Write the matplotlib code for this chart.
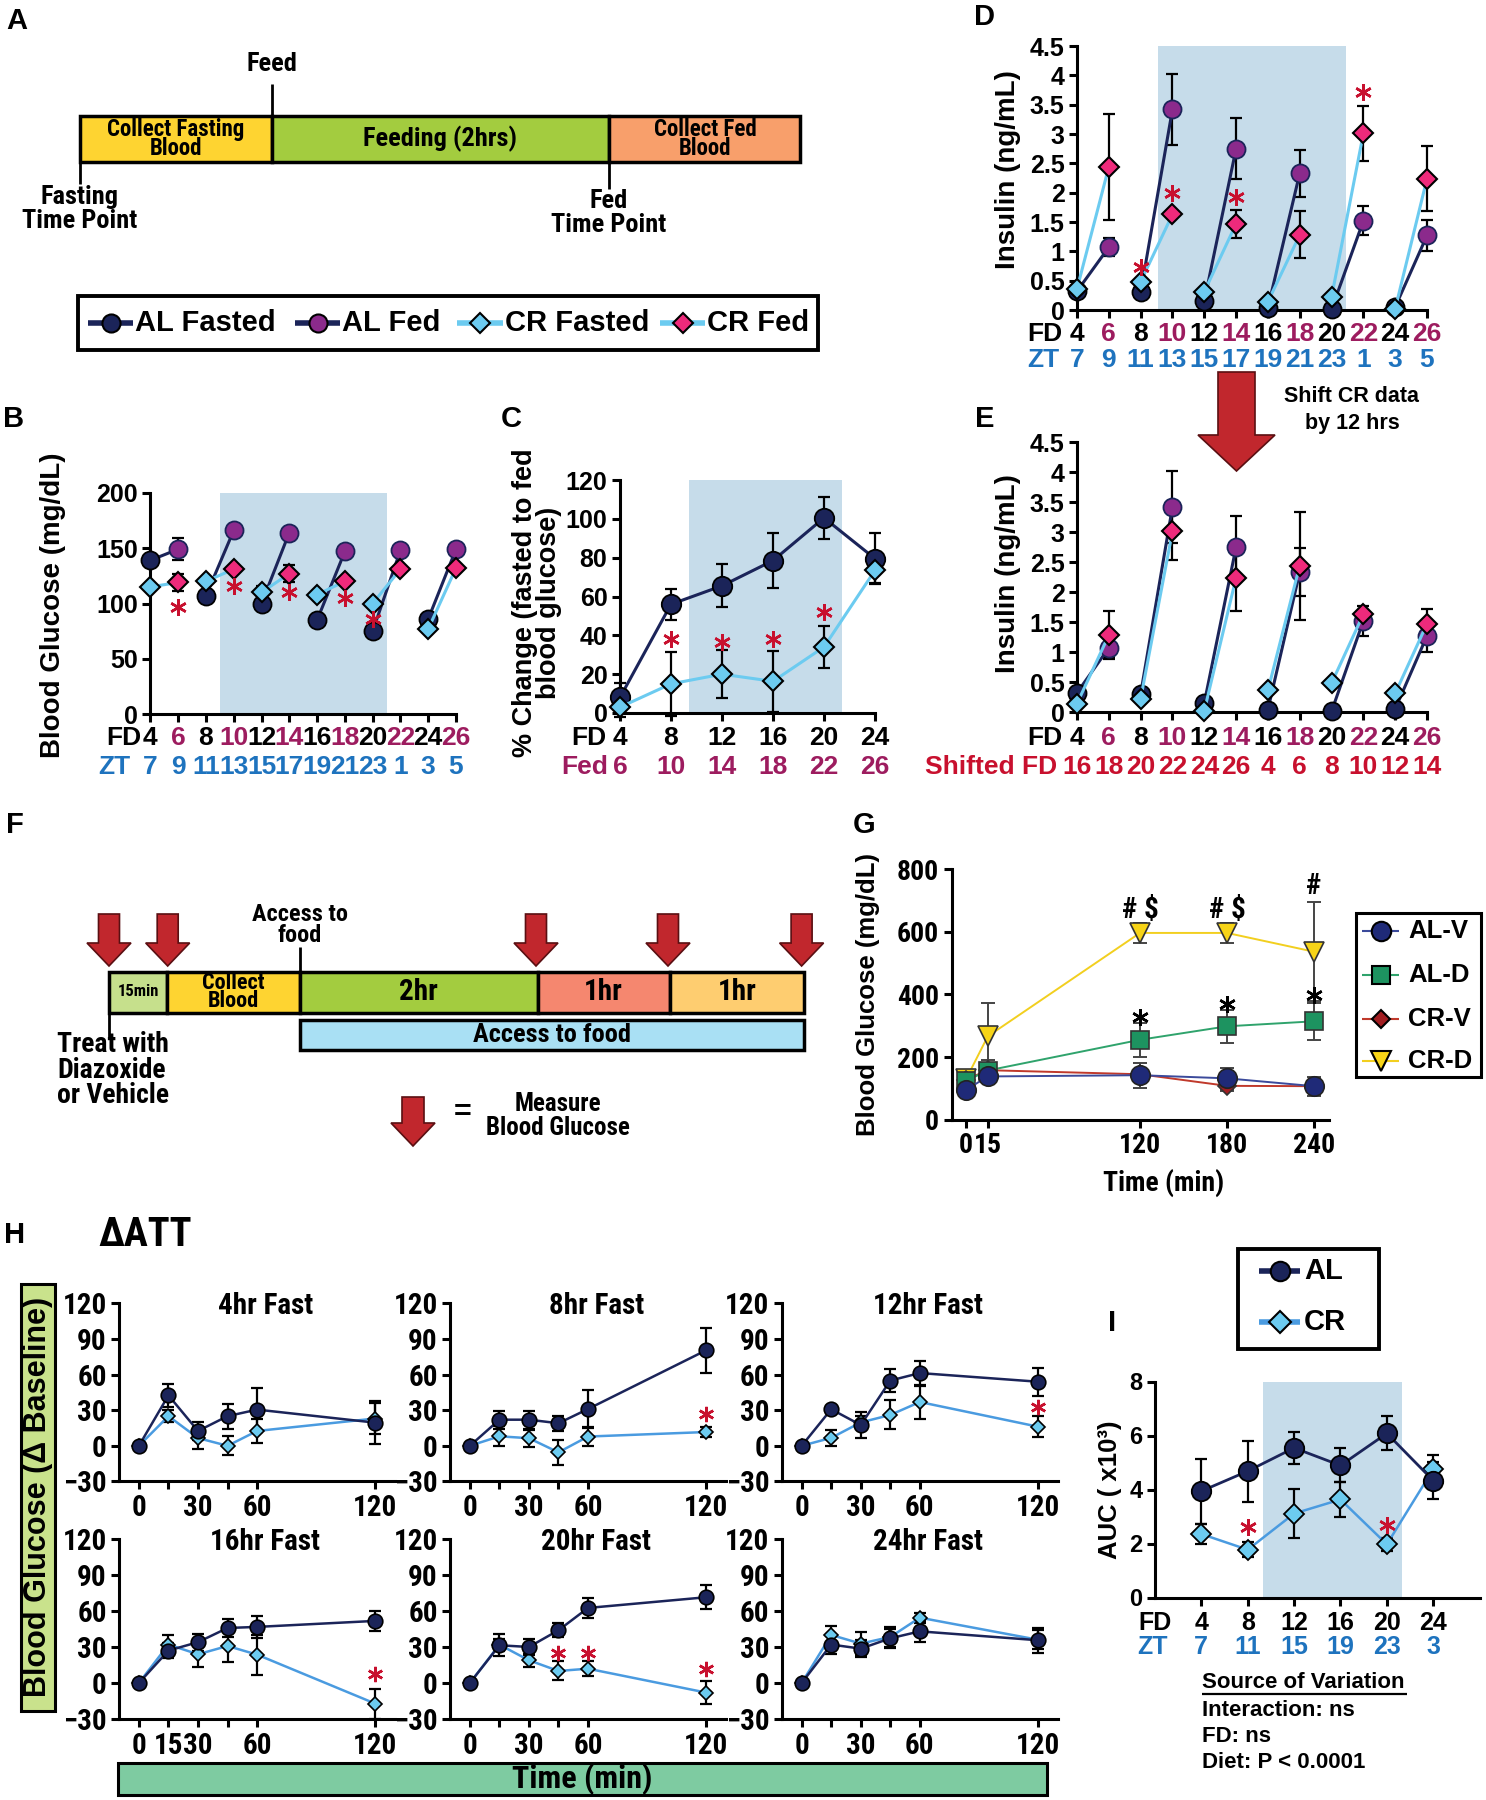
import numpy as np
import matplotlib
matplotlib.use('Agg')
import matplotlib.pyplot as plt
from matplotlib.patches import Rectangle, Polygon
from matplotlib import font_manager as fm

# ---------------- DATA ----------------
fd_fasted = [4, 8, 12, 16, 20, 24]
fd_fed = [6, 10, 14, 18, 22, 26]
fd_all = [4, 6, 8, 10, 12, 14, 16, 18, 20, 22, 24, 26]
zt_all = [7, 9, 11, 13, 15, 17, 19, 21, 23, 1, 3, 5]
shifted_fd = [16, 18, 20, 22, 24, 26, 4, 6, 8, 10, 12, 14]

# Panel B: blood glucose (mg/dL)
b_al_fasted = [139, 107, 100, 85, 75, 86]
b_al_fasted_err = [3, 3, 3, 3, 3, 3]
b_al_fed = [149, 166, 164, 147, 148, 149]
b_al_fed_err = [10, 3, 3, 3, 3, 3]
b_cr_fasted = [115, 120, 110, 108, 100, 77]
b_cr_fasted_err = [3, 3, 6, 3, 3, 3]
b_cr_fed = [119, 131, 127, 120, 131, 132]
b_cr_fed_err = [8, 3, 8, 3, 3, 3]
b_sig_x = [6, 10, 14, 18, 20]
b_sig_y = [97, 116, 110, 105, 86]

# Panel C: % change fasted to fed
c_fd = [4, 8, 12, 16, 20, 24]
c_fed_labels = [6, 10, 14, 18, 22, 26]
c_al = [8, 56, 65.5, 78.5, 100.5, 79.5]
c_al_err = [7.5, 8, 11, 14, 11, 13]
c_cr = [3, 15, 20, 16.3, 34, 73.5]
c_cr_err = [5, 16.6, 12.5, 15.7, 11, 6.5]
c_sig_x = [8, 12, 16, 20]
c_sig_y = [38, 36.5, 38, 52]

# Panel D: insulin (ng/mL)
d_al_fasted = [0.32, 0.30, 0.15, 0.04, 0.01, 0.05]
d_al_fed = [1.07, 3.42, 2.75, 2.33, 1.52, 1.27]
d_al_fed_err = [0.15, 0.6, 0.52, 0.4, 0.25, 0.27]
d_cr_fasted = [0.36, 0.48, 0.31, 0.14, 0.22, 0.02]
d_cr_fed = [2.44, 1.63, 1.47, 1.28, 3.01, 2.24]
d_cr_fed_err = [0.9, 0.05, 0.24, 0.4, 0.47, 0.55]
d_sig_x = [8, 10, 14, 22]
d_sig_y = [0.74, 2.0, 1.93, 3.72]

# Panel G: diazoxide
g_t = [0, 15, 120, 180, 240]
g_alv = [95, 138, 142, 132, 107]
g_alv_err = [8, 20, 40, 33, 30]
g_ald = [124, 157, 255, 298, 314]
g_ald_err = [10, 35, 54, 53, 59]
g_crv = [128, 158, 145, 108, 107]
g_crv_err = [8, 15, 15, 15, 15]
g_crd = [129, 266, 596, 596, 536]
g_crd_err = [10, 105, 33, 33, 158]

# Panel H: ATT (delta baseline)
h_t = [0, 15, 30, 45, 60, 120]
h_titles = ['4hr Fast', '8hr Fast', '12hr Fast', '16hr Fast', '20hr Fast', '24hr Fast']
al_4hr = [0, 42.5, 12.5, 25, 30.5, 19.5]
al_4hr_err = [0, 9.5, 7.5, 10.5, 18.5, 18]
cr_4hr = [0, 25, 6.5, 0, 12.5, 23]
cr_4hr_err = [0, 5, 9.5, 8, 10, 13]
al_8hr = [0, 22, 22, 19, 31, 80.5]
al_8hr_err = [0, 7.5, 7.5, 6.5, 15.8, 18.8]
cr_8hr = [0, 8, 6.4, -5.5, 7.8, 11.6]
cr_8hr_err = [0, 8.3, 7, 10.5, 7.8, 4.4]
al_12hr = [0, 30.8, 17.5, 55, 61.3, 54]
al_12hr_err = [0, 3, 11, 9.7, 10.5, 11.9]
cr_12hr = [0, 6.7, 19.7, 26, 36.9, 16.1]
cr_12hr_err = [0, 6.9, 5, 12.2, 14.7, 9.1]
al_16hr = [0, 27, 34, 45.8, 46.7, 51.7]
al_16hr_err = [0, 6, 7, 7.8, 8.9, 8]
cr_16hr = [0, 32, 23.9, 30.8, 23.6, -17.2]
cr_16hr_err = [0, 7.8, 10.3, 13.3, 16.7, 12.5]
al_20hr = [0, 31.4, 30, 43.9, 62.5, 71.4]
al_20hr_err = [0, 9.2, 7, 6, 8.6, 10]
cr_20hr = [0, 31.9, 18.9, 10, 11.9, -8]
cr_20hr_err = [0, 5, 5.5, 7.9, 6, 9.7]
al_24hr = [0, 32, 28.6, 37.2, 43, 35.6]
al_24hr_err = [0, 8, 7, 8, 9, 10.5]
cr_24hr = [0, 40, 32.8, 38.3, 54.4, 36]
cr_24hr_err = [0, 7.8, 9.7, 8, 4.2, 8]
sig_8hr = ([120], [26.6])
sig_12hr = ([120], [32.7])
sig_16hr = ([120], [7.8])
sig_20hr = ([45, 60, 120], [25, 25, 12])

# Panel I: AUC (x10^3)
i_fd = [4, 8, 12, 16, 20, 24]
i_zt = [7, 11, 15, 19, 23, 3]
i_al = [3.94, 4.68, 5.54, 4.89, 6.08, 4.33]
i_al_err = [1.2, 1.13, 0.6, 0.63, 0.63, 0.7]
i_cr = [2.35, 1.77, 3.11, 3.63, 1.97, 4.75]
i_cr_err = [0.38, 0.28, 0.91, 0.63, 0.24, 0.52]
i_sig_x = [8, 20]
i_sig_y = [2.6, 2.7]

# ---------------- STYLE ----------------
W, H = 1486, 1800
plt.rcParams['font.family'] = ['Liberation Sans', 'DejaVu Sans']
plt.rcParams['font.weight'] = 'bold'
plt.rcParams['axes.labelweight'] = 'bold'


def _find_condensed():
    prefs = ['liberation', 'arial', 'roboto', 'open', 'noto', 'lato', 'dejavu']
    best, best_rank = None, 99
    for f in fm.fontManager.ttflist:
        nm = f.name.lower()
        fn = f.fname.lower()
        st = str(f.stretch).lower()
        cond = ('narrow' in nm or 'condensed' in nm or 'narrow' in fn or 'condensed' in fn
                or st in ('condensed', 'semi-condensed'))
        if not cond:
            continue
        if 'mono' in nm or ('serif' in nm and 'sans' not in nm) or 'mono' in fn:
            continue
        if 'italic' in fn or 'oblique' in fn or f.style != 'normal':
            continue
        if 'extra' in fn or 'ultra' in fn or 'extra' in st or 'ultra' in st:
            continue
        w = f.weight
        if not isinstance(w, (int, float)):
            w = {'bold': 700, 'semibold': 600, 'demibold': 600, 'heavy': 800, 'black': 900}.get(str(w).lower(), 400)
        if w < 650 or w > 750:
            continue
        rank = next((i for i, p in enumerate(prefs) if p in nm or p in fn), 50)
        if 'semi' in fn or 'semi' in st:
            rank += 0.5
        if rank < best_rank:
            best, best_rank = f.fname, rank
    return best


COND_FILE = _find_condensed()


def nfp(size):
    if COND_FILE:
        return fm.FontProperties(fname=COND_FILE, size=size)
    return fm.FontProperties(family=['Liberation Sans', 'DejaVu Sans'], weight='bold', size=size * 0.88)


NAVY = '#1b2459'
PURPLE = '#8b2a8c'
SKY = '#6ccbf0'
PINK = '#ee2a7b'
HBLUE = '#4a9be0'
RED = '#c8102e'
FEDPUR = '#9d1c5f'
ZTBLUE = '#1e73be'
SHADE = '#c6dcea'
ARROW = '#c1272d'

fig = plt.figure(figsize=(W / 100, H / 100), dpi=100)
ov = fig.add_axes([0, 0, 1, 1])
ov.set_xlim(0, W)
ov.set_ylim(H, 0)
ov.axis('off')


def T(x, y, s, fs=16, ha='center', va='center', narrow=False, **kw):
    if narrow:
        return ov.text(x, y, s, ha=ha, va=va, fontproperties=nfp(fs), **kw)
    kw.setdefault('fontweight', 'bold')
    return ov.text(x, y, s, fontsize=fs, ha=ha, va=va, **kw)


def R(x0, y0, x1, y1, fc, lw=2.5, ec='black'):
    ov.add_patch(Rectangle((x0, y0), x1 - x0, y1 - y0, fc=fc, ec=ec, lw=lw))


def L(x0, y0, x1, y1, lw=2, color='black'):
    ov.plot([x0, x1], [y0, y1], color=color, lw=lw, solid_capstyle='butt')


def down_arrow(xc, ytop, ytip, shaft_w, head_w, head_len, fc=ARROW, ec='#5a0f12'):
    hs = ytip - head_len
    pts = [(xc - shaft_w / 2, ytop), (xc + shaft_w / 2, ytop), (xc + shaft_w / 2, hs),
           (xc + head_w / 2, hs), (xc, ytip), (xc - head_w / 2, hs), (xc - shaft_w / 2, hs)]
    ov.add_patch(Polygon(pts, closed=True, fc=fc, ec=ec, lw=1.2))


def leg_entry(x0, x1, y, lcolor, marker, mfc, ms, text, tx, fs, lw=4):
    ov.plot([x0, x1], [y, y], color=lcolor, lw=lw, solid_capstyle='butt')
    ov.plot([(x0 + x1) / 2], [y], marker=marker, mfc=mfc, mec='black', ms=ms, mew=1.5, ls='none')
    T(tx, y, text, fs=fs, ha='left')


def px_axes(x0, y0, x1, y1, labelsize=18):
    ax = fig.add_axes([x0 / W, 1 - y1 / H, (x1 - x0) / W, (y1 - y0) / H])
    ax.set_facecolor('none')
    for s in ['top', 'right']:
        ax.spines[s].set_visible(False)
    for s in ['left', 'bottom']:
        ax.spines[s].set_linewidth(2.2)
    ax.tick_params(width=2.2, length=6, direction='out', labelsize=labelsize, pad=3)
    return ax


def narrow_ticks(ax, size):
    for lab in ax.get_xticklabels() + ax.get_yticklabels():
        lab.set_fontproperties(nfp(size))


def row_labels(ax, xs, labels, colors, off_px, fs=19):
    for x, lab, c in zip(xs, labels, colors):
        ax.annotate(str(lab), xy=(x, 0), xycoords=('data', 'axes fraction'),
                    xytext=(0, -off_px * 0.72), textcoords='offset points',
                    ha='center', va='center', color=c, fontsize=fs, fontweight='bold',
                    annotation_clip=False)


def prefix(ax, x, text, color, off_px, dx_px, fs=19):
    ax.annotate(text, xy=(x, 0), xycoords=('data', 'axes fraction'),
                xytext=(-dx_px * 0.72, -off_px * 0.72), textcoords='offset points',
                ha='right', va='center', color=color, fontsize=fs, fontweight='bold',
                annotation_clip=False)


def stars(ax, xs, ys, color=RED, ms=12):
    ax.plot(xs, ys, ls='none', marker=(6, 2, 0), ms=ms, mew=1.8, color=color, clip_on=False, zorder=8)


kw_e = dict(fmt='none', ecolor='black', elinewidth=1.6, capsize=4, capthick=1.6, zorder=2, clip_on=False)


def paired_panel(ax, al_fa, al_fe, al_fe_err, cr_fa, cr_fe, cr_fe_err, al_fa_err=None, cr_fa_err=None, ms=12):
    ax.errorbar(fd_fed, al_fe, yerr=al_fe_err, **kw_e)
    ax.errorbar(fd_fed, cr_fe, yerr=cr_fe_err, **kw_e)
    if al_fa_err is not None:
        ax.errorbar(fd_fasted, al_fa, yerr=al_fa_err, **kw_e)
    if cr_fa_err is not None:
        ax.errorbar(fd_fasted, cr_fa, yerr=cr_fa_err, **kw_e)
    for xa, ya, xb, yb in zip(fd_fasted, al_fa, fd_fed, al_fe):
        ax.plot([xa, xb], [ya, yb], color=NAVY, lw=2.2, zorder=3, clip_on=False)
    ax.plot(fd_fasted, al_fa, ls='none', marker='o', ms=ms, mfc=NAVY, mec='black', mew=1.3, zorder=4, clip_on=False)
    ax.plot(fd_fed, al_fe, ls='none', marker='o', ms=ms, mfc=PURPLE, mec=NAVY, mew=1.3, zorder=4, clip_on=False)
    for xa, ya, xb, yb in zip(fd_fasted, cr_fa, fd_fed, cr_fe):
        ax.plot([xa, xb], [ya, yb], color=SKY, lw=2.2, zorder=5, clip_on=False)
    ax.plot(fd_fasted, cr_fa, ls='none', marker='D', ms=ms * 0.75, mfc=SKY, mec='black', mew=1.5, zorder=6, clip_on=False)
    ax.plot(fd_fed, cr_fe, ls='none', marker='D', ms=ms * 0.75, mfc=PINK, mec='black', mew=1.5, zorder=6, clip_on=False)


lab_colors = ['black' if i % 2 == 0 else FEDPUR for i in range(12)]
insulin_ticks = [0, 0.5, 1, 1.5, 2, 2.5, 3, 3.5, 4, 4.5]
insulin_labels = ['0', '0.5', '1', '1.5', '2', '2.5', '3', '3.5', '4', '4.5']

# ---------------- PANEL A ----------------
T(17, 21, 'A', fs=21)
R(80, 116, 272, 162, '#fed431')
R(272, 116, 609, 162, '#a3cc3f')
R(609, 116, 800, 162, '#f89f6b')
T(176, 139, 'Collect Fasting\nBlood', fs=16.5, narrow=True, linespacing=0.82)
T(440, 139, 'Feeding (2hrs)', fs=19, narrow=True)
T(705, 139, 'Collect Fed\nBlood', fs=16.5, narrow=True, linespacing=0.82)
L(272, 84, 272, 116)
T(272, 64, 'Feed', fs=19, narrow=True)
L(80, 162, 80, 184)
T(80, 209, 'Fasting\nTime Point', fs=19, narrow=True, linespacing=0.95)
L(609, 162, 609, 189)
T(609, 213, 'Fed\nTime Point', fs=19, narrow=True, linespacing=0.95)
R(78, 296, 818, 350, 'white', lw=2.8)
leg_entry(88, 133, 323, NAVY, 'o', NAVY, 13, 'AL Fasted', 135, 21)
leg_entry(295, 340, 323, NAVY, 'o', PURPLE, 13, 'AL Fed', 342, 21)
leg_entry(457, 503, 323, SKY, 'D', SKY, 10, 'CR Fasted', 505, 21)
leg_entry(660, 705, 323, SKY, 'D', PINK, 10, 'CR Fed', 707, 21)

# ---------------- PANEL B ----------------
T(14, 419, 'B', fs=21)
axB = px_axes(150.4, 492.7, 456, 714.3)
axB.axvspan(9, 21, color=SHADE, zorder=0, lw=0)
paired_panel(axB, b_al_fasted, b_al_fed, b_al_fed_err, b_cr_fasted, b_cr_fed, b_cr_fed_err,
             b_al_fasted_err, b_cr_fasted_err, ms=13)
stars(axB, b_sig_x, b_sig_y)
axB.set_xlim(4, 26)
axB.set_ylim(0, 200)
axB.set_yticks([0, 50, 100, 150, 200])
axB.set_xticks(fd_all)
axB.set_xticklabels([])
row_labels(axB, fd_all, fd_all, lab_colors, 24)
row_labels(axB, fd_all, zt_all, [ZTBLUE] * 12, 53)
prefix(axB, 4, 'FD', 'black', 24, 9)
prefix(axB, 4, 'ZT', ZTBLUE, 53, 20)
T(53, 605, 'Blood Glucose (mg/dL)', fs=20, rotation=90)

# ---------------- PANEL C ----------------
T(511, 419, 'C', fs=21)
axC = px_axes(620, 480, 875, 713)
axC.axvspan(9.4, 21.4, color=SHADE, zorder=0, lw=0)
axC.errorbar(c_fd, c_al, yerr=c_al_err, **kw_e)
axC.errorbar(c_fd, c_cr, yerr=c_cr_err, **kw_e)
axC.plot(c_fd, c_al, color=NAVY, lw=2.2, marker='o', ms=14, mfc=NAVY, mec='black', mew=1.3, zorder=4, clip_on=False)
axC.plot(c_fd, c_cr, color=SKY, lw=2.2, marker='D', ms=10.5, mfc=SKY, mec='black', mew=1.5, zorder=5, clip_on=False)
stars(axC, c_sig_x, c_sig_y)
axC.set_xlim(4, 24)
axC.set_ylim(0, 120)
axC.set_yticks([0, 20, 40, 60, 80, 100, 120])
axC.set_xticks(c_fd)
axC.set_xticklabels([])
row_labels(axC, c_fd, c_fd, ['black'] * 6, 25)
row_labels(axC, c_fd, c_fed_labels, [FEDPUR] * 6, 54)
prefix(axC, 4, 'FD', 'black', 25, 14)
prefix(axC, 4, 'Fed', FEDPUR, 54, 12)
T(537, 603, '% Change (fasted to fed\nblood glucose)', fs=19.5, rotation=90, linespacing=0.88)

# ---------------- PANEL D ----------------
T(985, 17, 'D', fs=21)
axD = px_axes(1077, 46, 1427, 310)
axD.axvspan(9.1, 20.9, color=SHADE, zorder=0, lw=0)
paired_panel(axD, d_al_fasted, d_al_fed, d_al_fed_err, d_cr_fasted, d_cr_fed, d_cr_fed_err, ms=13)
stars(axD, d_sig_x, d_sig_y)
axD.set_xlim(4, 26)
axD.set_ylim(0, 4.5)
axD.set_yticks(insulin_ticks)
axD.set_yticklabels(insulin_labels)
axD.set_xticks(fd_all)
axD.set_xticklabels([])
row_labels(axD, fd_all, fd_all, lab_colors, 24)
row_labels(axD, fd_all, zt_all, [ZTBLUE] * 12, 50)
prefix(axD, 4, 'FD', 'black', 24, 15)
prefix(axD, 4, 'ZT', ZTBLUE, 50, 18)
T(1008, 170, 'Insulin (ng/mL)', fs=20, rotation=90)

# arrow D -> E
down_arrow(1236.5, 372, 471, 37, 77, 36)
T(1352, 396, 'Shift CR data', fs=15.5)
T(1352, 424, 'by 12 hrs', fs=15.5)

# ---------------- PANEL E ----------------
T(985, 419, 'E', fs=21)
axE = px_axes(1077, 442, 1427, 712)
e_cr_fasted = np.roll(d_cr_fasted, -3)
e_cr_fed = np.roll(d_cr_fed, -3)
e_cr_fed_err = np.roll(d_cr_fed_err, -3)
paired_panel(axE, d_al_fasted, d_al_fed, d_al_fed_err, e_cr_fasted, e_cr_fed, e_cr_fed_err, ms=13)
axE.set_xlim(4, 26)
axE.set_ylim(0, 4.5)
axE.set_yticks(insulin_ticks)
axE.set_yticklabels(insulin_labels)
axE.set_xticks(fd_all)
axE.set_xticklabels([])
row_labels(axE, fd_all, fd_all, lab_colors, 26)
row_labels(axE, fd_all, shifted_fd, [RED] * 12, 55)
prefix(axE, 4, 'FD', 'black', 26, 15)
prefix(axE, 4, 'Shifted FD', RED, 55, 20)
T(1008, 574, 'Insulin (ng/mL)', fs=20, rotation=90)

# ---------------- PANEL F ----------------
T(15, 825, 'F', fs=21)
R(109, 971.5, 166.5, 1013, '#c6e08c')
R(166.5, 971.5, 299.7, 1013, '#fed431')
R(299.7, 971.5, 537.5, 1013, '#a3cc3f')
R(537.5, 971.5, 669.5, 1013, '#f5876f')
R(669.5, 971.5, 804, 1013, '#fecd70')
R(299.7, 1020, 804, 1050, '#a9e0f4')
T(138, 992, '15min', fs=12, narrow=True)
T(233, 992, 'Collect\nBlood', fs=16, narrow=True, linespacing=0.82)
T(418, 992, '2hr', fs=21, narrow=True)
T(603, 992, '1hr', fs=21, narrow=True)
T(737, 992, '1hr', fs=21, narrow=True)
T(552, 1035, 'Access to food', fs=19, narrow=True)
for xa in [109, 167.7, 536, 668, 801.6]:
    down_arrow(xa, 914, 966, 21, 44, 23)
T(299.7, 925, 'Access to\nfood', fs=17.5, narrow=True, linespacing=0.9)
L(299.7, 947, 299.7, 971.5)
L(109, 1013, 109, 1038)
T(57, 1070, 'Treat with\nDiazoxide\nor Vehicle', fs=20, ha='left', narrow=True, linespacing=0.95)
down_arrow(413, 1097, 1146, 22, 44, 23)
T(463, 1113, '=', fs=22)
T(558, 1116, 'Measure\nBlood Glucose', fs=18, narrow=True, linespacing=0.95)

# ---------------- PANEL G ----------------
T(864, 825, 'G', fs=21)
axG = px_axes(951.5, 869, 1328.5, 1119.7)
kwg = dict(fmt='none', elinewidth=1.4, capsize=5, capthick=1.4, zorder=2, clip_on=False, ecolor='#444444')
axG.errorbar(g_t, g_crd, yerr=g_crd_err, **kwg)
axG.errorbar(g_t, g_crv, yerr=g_crv_err, **kwg)
axG.errorbar(g_t, g_ald, yerr=g_ald_err, **kwg)
axG.errorbar(g_t, g_alv, yerr=g_alv_err, **kwg)
axG.plot(g_t, g_crd, color='#f2cf1f', lw=1.4, marker='v', ms=14, mfc='#f7d417', mec='#333333', mew=1.2, zorder=3, clip_on=False)
axG.plot(g_t, g_crv, color='#c0392b', lw=1.4, marker='D', ms=9, mfc='#a11d21', mec='#333333', mew=1.2, zorder=4, clip_on=False)
axG.plot(g_t, g_ald, color='#2fa36c', lw=1.4, marker='s', ms=13, mfc='#1d9360', mec='#333333', mew=1.2, zorder=5, clip_on=False)
axG.plot(g_t, g_alv, color='#3b4a9b', lw=1.4, marker='o', ms=14, mfc='#1f2a78', mec='#222222', mew=1.2, zorder=6, clip_on=False)
axG.set_xlim(-10, 250)
axG.set_ylim(0, 800)
axG.set_yticks([0, 200, 400, 600, 800])
axG.set_xticks(g_t)
axG.set_xticklabels(['0', '15', '120', '180', '240'])
narrow_ticks(axG, 20)
for x, s, y in [(120, '# $', 668), (180, '# $', 668), (240, '#', 745)]:
    axG.text(x, y, s, ha='center', va='center', fontproperties=nfp(21))
stars(axG, [120, 180, 240], [327, 369, 398], color='black', ms=12)
T(868, 994, 'Blood Glucose (mg/dL)', fs=18.5, rotation=90)
T(1164, 1183, 'Time (min)', fs=20, narrow=True)
R(1356, 913, 1481, 1077, 'white', lw=2.2)
leg_entry(1362, 1399, 931, '#3b4a9b', 'o', '#1f2a78', 14, 'AL-V', 1408, 18.5, lw=1.5)
leg_entry(1362, 1399, 975, '#2fa36c', 's', '#1d9360', 13, 'AL-D', 1408, 18.5, lw=1.5)
leg_entry(1362, 1399, 1018.6, '#c0392b', 'D', '#a11d21', 9.5, 'CR-V', 1408, 18.5, lw=1.5)
leg_entry(1362, 1399, 1061, '#f2cf1f', 'v', '#f7d417', 14, 'CR-D', 1408, 18.5, lw=1.5)

# ---------------- PANEL H ----------------
T(15, 1235, 'H', fs=21)
T(98, 1235, 'ΔATT', fs=29, ha='left', narrow=True)
R(21, 1284, 55, 1711, '#c9e28c', lw=2.2)
T(38, 1497, 'Blood Glucose (Δ Baseline)', fs=22, rotation=90)
R(118, 1763, 1047, 1795, '#7ecba1', lw=2.2)
T(582, 1779, 'Time (min)', fs=23, narrow=True)

h_al_sets = [al_4hr, al_8hr, al_12hr, al_16hr, al_20hr, al_24hr]
h_al_errs = [al_4hr_err, al_8hr_err, al_12hr_err, al_16hr_err, al_20hr_err, al_24hr_err]
h_cr_sets = [cr_4hr, cr_8hr, cr_12hr, cr_16hr, cr_20hr, cr_24hr]
h_cr_errs = [cr_4hr_err, cr_8hr_err, cr_12hr_err, cr_16hr_err, cr_20hr_err, cr_24hr_err]
h_sigs = [None, sig_8hr, sig_12hr, sig_16hr, sig_20hr, None]
h_cols = [(119.2, 395), (450.2, 725.8), (782, 1057.7)]
h_rows = [(1303.4, 1481.4), (1538.9, 1719)]
for k in range(6):
    (x0, x1) = h_cols[k % 3]
    (y0, y1) = h_rows[k // 3]
    ax = px_axes(x0, y0, x1, y1)
    ax.errorbar(h_t, h_cr_sets[k], yerr=h_cr_errs[k], **kw_e)
    ax.errorbar(h_t, h_al_sets[k], yerr=h_al_errs[k], **kw_e)
    ax.plot(h_t, h_cr_sets[k], color=HBLUE, lw=1.8, marker='D', ms=7.5, mfc=SKY, mec='black', mew=1.2, zorder=4, clip_on=False)
    ax.plot(h_t, h_al_sets[k], color=NAVY, lw=1.8, marker='o', ms=10.5, mfc=NAVY, mec='black', mew=1.2, zorder=5, clip_on=False)
    if h_sigs[k] is not None:
        stars(ax, h_sigs[k][0], h_sigs[k][1], ms=11)
    ax.set_xlim(-10, 130)
    ax.set_ylim(-30, 120)
    ax.set_yticks([-30, 0, 30, 60, 90, 120])
    ax.set_xticks(h_t)
    if k == 3:
        ax.set_xticklabels(['0', '15', '30', '', '60', '120'])
    else:
        ax.set_xticklabels(['0', '', '30', '', '60', '120'])
    narrow_ticks(ax, 21)
    ax.text(0.53, 0.985, h_titles[k], transform=ax.transAxes, ha='center', va='center',
            fontproperties=nfp(21))

# ---------------- PANEL I ----------------
T(1112, 1323, 'I', fs=21)
R(1238, 1249, 1379, 1349, 'white', lw=2.8)
leg_entry(1259, 1300, 1271, NAVY, 'o', NAVY, 14, 'AL', 1304, 21)
leg_entry(1259, 1300, 1322, HBLUE, 'D', SKY, 11, 'CR', 1304, 21)
axI = px_axes(1155, 1381.5, 1479.6, 1597.5, labelsize=17)
axI.axvspan(9.3, 21.3, color=SHADE, zorder=0, lw=0)
axI.errorbar(i_fd, i_cr, yerr=i_cr_err, **kw_e)
axI.errorbar(i_fd, i_al, yerr=i_al_err, **kw_e)
axI.plot(i_fd, i_cr, color=HBLUE, lw=1.8, marker='D', ms=10.5, mfc=SKY, mec='black', mew=1.3, zorder=4, clip_on=False)
axI.plot(i_fd, i_al, color=NAVY, lw=2.0, marker='o', ms=14, mfc=NAVY, mec='black', mew=1.3, zorder=5, clip_on=False)
stars(axI, i_sig_x, i_sig_y)
axI.set_xlim(0, 28)
axI.set_ylim(0, 8)
axI.set_yticks([0, 2, 4, 6, 8])
axI.set_xticks(i_fd)
axI.set_xticklabels([])
row_labels(axI, i_fd, i_fd, ['black'] * 6, 25, fs=18)
row_labels(axI, i_fd, i_zt, [ZTBLUE] * 6, 50, fs=18)
prefix(axI, 4, 'FD', 'black', 25, 30, fs=18)
prefix(axI, 4, 'ZT', ZTBLUE, 50, 34, fs=18)
T(1110, 1490, 'AUC ( x10³)', fs=18.5, rotation=90)
T(1202, 1682, 'Source of Variation', fs=16, ha='left')
L(1202, 1694, 1407, 1694, lw=1.6)
T(1202, 1710, 'Interaction: ns', fs=16, ha='left')
T(1202, 1736, 'FD: ns', fs=16, ha='left')
T(1202, 1763, 'Diet: P < 0.0001', fs=16, ha='left')

fig.savefig('out.png', dpi=100)
